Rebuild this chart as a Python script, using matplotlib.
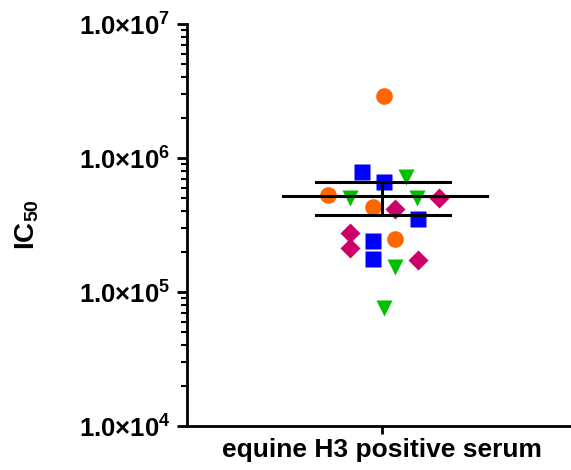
import numpy as np
import matplotlib
matplotlib.use('Agg')
import matplotlib.pyplot as plt
from matplotlib.ticker import LogLocator, FuncFormatter

plt.rcParams['font.family'] = 'Liberation Sans'
plt.rcParams['font.weight'] = 'bold'
plt.rcParams['mathtext.fontset'] = 'custom'
plt.rcParams['mathtext.rm'] = 'Liberation Sans:bold'
plt.rcParams['mathtext.bf'] = 'Liberation Sans:bold'
plt.rcParams['mathtext.it'] = 'Liberation Sans:bold'

category = 'equine H3 positive serum'

# IC50 values per group, with horizontal scatter offsets
blue_x = [-0.104, 0.010, 0.183, -0.048, -0.048]
blue_y = [7.9e5, 6.65e5, 3.5e5, 2.42e5, 1.75e5]
green_x = [0.123, -0.164, 0.179, 0.067, 0.009]
green_y = [7.2e5, 5.0e5, 5.0e5, 1.53e5, 7.55e4]
orange_x = [0.010, -0.275, -0.048, 0.067]
orange_y = [2.9e6, 5.3e5, 4.33e5, 2.47e5]
magenta_x = [0.294, 0.067, -0.163, -0.163, 0.183]
magenta_y = [5.03e5, 4.14e5, 2.74e5, 2.12e5, 1.73e5]

allvals = np.array(blue_y + green_y + orange_y + magenta_y)
mean = allvals.mean()
sem = allvals.std(ddof=1) / np.sqrt(len(allvals))

fig = plt.figure(figsize=(5.71, 4.70), dpi=100)
ax = fig.add_axes([187/571, 44/470, 384/571, 402/470])

ax.plot(blue_x, blue_y, 's', color='#0000ff', ms=11.5, mec='none', zorder=3)
ax.plot(green_x, green_y, 'v', color='#00c000', ms=12, mec='none', zorder=3)
ax.plot(orange_x, orange_y, 'o', color='#ff6600', ms=12, mec='none', zorder=3)
ax.plot(magenta_x, magenta_y, 'D', color='#cc0066', ms=10.5, mec='none', zorder=3)

# mean +/- SEM
ax.plot([-0.51, 0.54], [mean, mean], color='black', lw=2.2, zorder=4)
ax.plot([0, 0], [mean - sem, mean + sem], color='black', lw=2.2, zorder=4)
ax.plot([-0.34, 0.35], [mean + sem, mean + sem], color='black', lw=2.2, zorder=4)
ax.plot([-0.34, 0.35], [mean - sem, mean - sem], color='black', lw=2.2, zorder=4)

ax.set_yscale('log')
ax.set_ylim(1e4, 1e7)
ax.set_xlim(-1, 0.969)

ax.yaxis.set_major_locator(LogLocator(base=10, numticks=10))
ax.yaxis.set_minor_locator(LogLocator(base=10, subs=np.arange(2, 10), numticks=20))
ax.yaxis.set_major_formatter(FuncFormatter(lambda v, p: '1.0×10$^{%d}$' % round(np.log10(v))))
ax.yaxis.set_minor_formatter(FuncFormatter(lambda v, p: ''))

ax.set_xticks([0])
ax.set_xticklabels([category])

for s in ['top', 'right']:
    ax.spines[s].set_visible(False)
for s in ['left', 'bottom']:
    ax.spines[s].set_linewidth(2)

ax.tick_params(axis='y', which='major', length=7, width=2, labelsize=18.5, pad=5)
ax.tick_params(axis='y', which='minor', length=4, width=1.5)
ax.tick_params(axis='x', length=6, width=2, labelsize=19, pad=3)

ax.set_ylabel('IC$_{50}$', fontsize=20, fontweight='bold')
ax.yaxis.set_label_coords(-0.38, 0.5)

fig.savefig('out.png', dpi=100)
